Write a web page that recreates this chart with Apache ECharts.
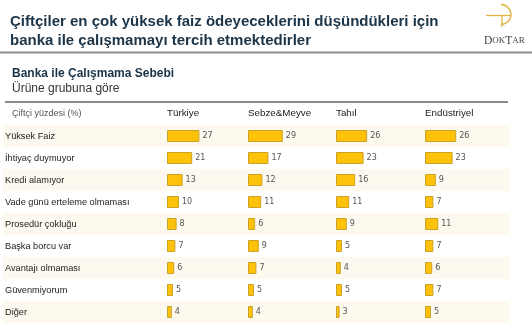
<!DOCTYPE html>
<html>
<head>
<meta charset="utf-8">
<script src="https://cdn.jsdelivr.net/npm/echarts@6/dist/echarts.min.js"></script>
<style>
html,body{margin:0;padding:0;background:#fff;}
#chart{width:532px;height:328px;}
</style>
</head>
<body>
<div id="chart"></div>
<script>
var categories = ['Yüksek Faiz','İhtiyaç duymuyor','Kredi alamıyor','Vade günü erteleme olmaması','Prosedür çokluğu','Başka borcu var','Avantajı olmaması','Güvenmiyorum','Diğer'];
var columns = ['Türkiye','Sebze&Meyve','Tahıl','Endüstriyel'];
var turkiye = [27,21,13,10,8,7,6,5,4];
var sebzeMeyve = [29,17,12,11,6,9,7,5,4];
var tahil = [26,23,16,11,9,5,4,5,3];
var endustriyel = [26,23,9,7,11,7,6,7,5];
var seriesValues = [turkiye, sebzeMeyve, tahil, endustriyel];

var FONT = 'Liberation Sans, Arial, sans-serif';
var colLeft = [167, 248, 336, 425];
var gridTop = 125, gridHeight = 198;

var grids = [{left: 3, top: gridTop, width: 507, height: gridHeight}];
var xAxes = [{gridIndex: 0, type: 'value', show: false, min: 0, max: 1}];
var yAxes = [{
  gridIndex: 0, type: 'category', data: categories, inverse: true,
  axisLine: {show: false}, axisTick: {show: false},
  splitArea: {show: true, areaStyle: {color: ['#fdf9ee', 'rgba(255,255,255,0)']}},
  axisLabel: {inside: true, margin: 2, color: '#222', fontSize: 9.2, fontFamily: FONT, align: 'left'}
}];
var series = [];
var graphics = [];

columns.forEach(function (name, i) {
  var gi = i + 1;
  grids.push({left: colLeft[i], top: gridTop, width: 36, height: gridHeight});
  xAxes.push({gridIndex: gi, type: 'value', min: 0, max: 30, show: false});
  yAxes.push({gridIndex: gi, type: 'category', data: categories, inverse: true, show: false});
  series.push({
    type: 'bar', xAxisIndex: gi, yAxisIndex: gi, data: seriesValues[i], barWidth: 12,
    itemStyle: {color: '#ffc20a', borderColor: '#c9a227', borderWidth: 1},
    label: {show: true, position: 'right', distance: 3, color: '#555', fontSize: 8, fontFamily: 'DejaVu Sans, sans-serif'},
    silent: true
  });
  graphics.push({type: 'text', left: colLeft[i], top: 108,
    style: {text: name, fill: '#222', font: '9.8px ' + FONT}});
});

graphics = graphics.concat([
  {type: 'text', left: 10, top: 12, style: {text: 'Çiftçiler en çok yüksek faiz ödeyeceklerini düşündükleri için\nbanka ile çalışmamayı tercih etmektedirler', fill: '#1b3447', font: 'bold 15px ' + FONT, lineHeight: 19}},
  {type: 'line', shape: {x1: 0, y1: 52.5, x2: 532, y2: 52.5}, style: {stroke: '#8a8a8a', lineWidth: 2}},
  {type: 'text', left: 12, top: 68, style: {text: 'Banka ile Çalışmama Sebebi', fill: '#1b3447', font: 'bold 12px ' + FONT}},
  {type: 'text', left: 12, top: 83, style: {text: 'Ürüne grubuna göre', fill: '#333', font: '12px ' + FONT}},
  {type: 'line', shape: {x1: 5, y1: 102, x2: 508, y2: 102}, style: {stroke: '#8a8a8a', lineWidth: 2}},
  {type: 'text', left: 12, top: 109, style: {text: 'Çiftçi yüzdesi (%)', fill: '#555', font: '9px ' + FONT}},
  {type: 'arc', shape: {cx: 501, cy: 14.5, r: 10, startAngle: -Math.PI / 2, endAngle: Math.PI / 2}, style: {stroke: '#e0b040', lineWidth: 1.3, fill: null}},
  {type: 'line', shape: {x1: 486, y1: 15.5, x2: 511, y2: 15.5}, style: {stroke: '#e0b040', lineWidth: 1.3}},
  {type: 'line', shape: {x1: 502, y1: 15.5, x2: 502, y2: 27}, style: {stroke: '#e0b040', lineWidth: 1.3}},
  {type: 'text', left: 484, top: 35, style: {
    rich: {b: {fontSize: 11.5, fontFamily: 'Liberation Serif, serif', fill: '#444'}, s: {fontSize: 9, fontFamily: 'Liberation Serif, serif', fill: '#444'}},
    text: '{b|D}{s|OK}{b|T}{s|AR}'}}
]);

var chart = echarts.init(document.getElementById('chart'), null, {renderer: 'canvas'});
chart.setOption({
  animation: false,
  backgroundColor: '#fff',
  grid: grids,
  xAxis: xAxes,
  yAxis: yAxes,
  series: series,
  graphic: graphics
});
</script>
</body>
</html>
